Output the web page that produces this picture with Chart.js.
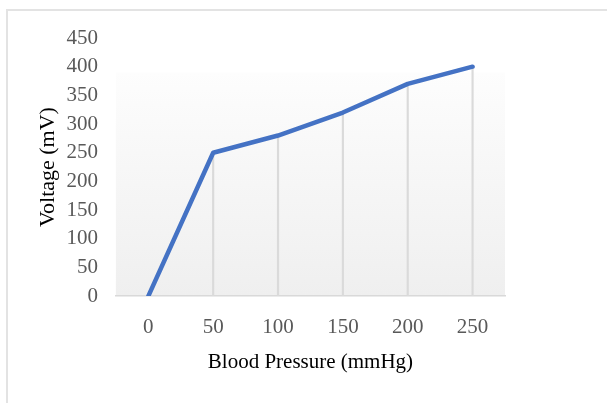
<!DOCTYPE html>
<html>
<head>
<meta charset="utf-8">
<script src="https://cdn.jsdelivr.net/npm/chart.js@4"></script>
<style>
	html, body { margin: 0; padding: 0; background: #fff; }
	#wrap { position: relative; width: 607px; height: 403px; overflow: hidden; }
	#frame { position: absolute; left: 6px; top: 9px; width: 800px; height: 600px; border: 2px solid #e3e3e3; box-sizing: border-box; }
	#chart { position: absolute; left: 0; top: 0; }
</style>
</head>
<body>
<div id="wrap">
	<div id="frame"></div>
	<canvas id="chart" width="607" height="403"></canvas>
</div>
<script>
const pressure = ["0", "50", "100", "150", "200", "250"]
const voltage = [0, 250, 280, 320, 370, 400]
const xTitle = "Blood Pressure (mmHg)"
const yTitle = "Voltage (mV)"

const serif = "'Liberation Serif', 'Times New Roman', serif"

// light gray gradient behind the plot
const plotBg = {
	id: "plotBg",
	beforeDraw(chart) {
		const { ctx, chartArea } = chart
		const top = chart.scales.y.getPixelForValue(390)
		const g = ctx.createLinearGradient(0, top, 0, chartArea.bottom)
		g.addColorStop(0, "#fdfdfd")
		g.addColorStop(1, "#efefef")
		ctx.save()
		ctx.fillStyle = g
		ctx.fillRect(chartArea.left, top, chartArea.right - chartArea.left, chartArea.bottom - top)
		ctx.restore()
	}
}

const chart = new Chart("chart", {
	data: {
		labels: pressure,
		datasets: [{
			type: "line",
			data: voltage,
			borderColor: "#4472C4",
			borderWidth: 4.5,
			borderCapStyle: "round",
			borderJoinStyle: "round",
			pointRadius: 0,
			tension: 0,
			order: 0
		}, {
			// drop lines
			type: "bar",
			data: voltage,
			backgroundColor: "#dadada",
			barThickness: 1.5,
			order: 1
		}]
	},
	options: {
		responsive: false,
		animation: false,
		layout: {
			padding: { left: 30, right: 102, top: 38, bottom: 28 }
		},
		plugins: {
			legend: { display: false },
			tooltip: { enabled: false }
		},
		scales: {
			x: {
				offset: true,
				grid: { display: false, drawTicks: false },
				border: { color: "#d9d9d9", width: 1.5 },
				ticks: { color: "#595959", font: { family: serif, size: 21 }, padding: 18.5 },
				title: {
					display: true, text: xTitle, color: "#000",
					font: { family: serif, size: 21 }, padding: { top: -8.5, bottom: 0 }
				}
			},
			y: {
				min: 0,
				max: 450,
				grid: { display: false, drawTicks: false },
				border: { display: false },
				ticks: { stepSize: 50, autoSkip: false, color: "#595959", font: { family: serif, size: 21 }, padding: 18 },
				title: {
					display: true, text: yTitle, color: "#000",
					font: { family: serif, size: 22 }, padding: { top: 5, bottom: -13 }
				}
			}
		}
	},
	plugins: [plotBg]
})
</script>
</body>
</html>
